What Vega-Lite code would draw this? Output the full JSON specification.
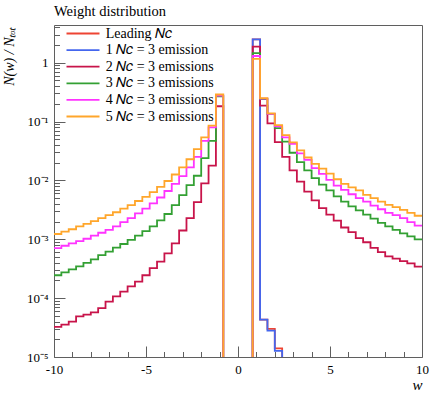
{
  "$schema": "https://vega.github.io/schema/vega-lite/v6.json",
  "autosize": "none",
  "width": 368,
  "height": 332,
  "padding": {"left": 54, "top": 25, "right": 14, "bottom": 37},
  "background": "white",
  "title": {"text": "Weight distribution", "anchor": "start", "frame": "group", "font": "Liberation Serif", "fontSize": 14.5, "fontWeight": "normal", "color": "black", "offset": 2},
  "config": {"view": {"stroke": "#5f5f5f", "strokeWidth": 1}, "font": "Liberation Serif"},
  "data": {"values": [
    {"w": 0.4, "lead": 1e-7, "e1": 1e-7},
    {"w": -10, "e2": 3.24e-5, "e3": 2.45e-4, "e4": 7.08e-4, "e5": 1.23e-3},
    {"w": -9.6, "e2": 3.55e-5, "e3": 2.75e-4, "e4": 7.76e-4, "e5": 1.35e-3},
    {"w": -9.2, "e2": 3.98e-5, "e3": 3.09e-4, "e4": 8.51e-4, "e5": 1.48e-3},
    {"w": -8.8, "e2": 4.90e-5, "e3": 3.47e-4, "e4": 9.33e-4, "e5": 1.66e-3},
    {"w": -8.4, "e2": 5.25e-5, "e3": 3.98e-4, "e4": 1.02e-3, "e5": 1.82e-3},
    {"w": -8.0, "e2": 5.75e-5, "e3": 4.57e-4, "e4": 1.15e-3, "e5": 2.04e-3},
    {"w": -7.6, "e2": 6.76e-5, "e3": 5.37e-4, "e4": 1.29e-3, "e5": 2.29e-3},
    {"w": -7.2, "e2": 8.71e-5, "e3": 6.17e-4, "e4": 1.45e-3, "e5": 2.57e-3},
    {"w": -6.8, "e2": 1.07e-4, "e3": 7.24e-4, "e4": 1.66e-3, "e5": 2.88e-3},
    {"w": -6.4, "e2": 1.29e-4, "e3": 8.32e-4, "e4": 1.95e-3, "e5": 3.31e-3},
    {"w": -6.0, "e2": 1.59e-4, "e3": 9.77e-4, "e4": 2.29e-3, "e5": 3.80e-3},
    {"w": -5.6, "e2": 1.91e-4, "e3": 1.15e-3, "e4": 2.75e-3, "e5": 4.47e-3},
    {"w": -5.2, "e2": 2.45e-4, "e3": 1.38e-3, "e4": 3.31e-3, "e5": 5.25e-3},
    {"w": -4.8, "e2": 3.24e-4, "e3": 1.66e-3, "e4": 4.07e-3, "e5": 6.31e-3},
    {"w": -4.4, "e2": 4.17e-4, "e3": 2.09e-3, "e4": 5.13e-3, "e5": 7.76e-3},
    {"w": -4.0, "e2": 5.75e-4, "e3": 2.69e-3, "e4": 6.61e-3, "e5": 9.77e-3},
    {"w": -3.6, "e2": 8.51e-4, "e3": 3.80e-3, "e4": 8.71e-3, "e5": 1.26e-2},
    {"w": -3.2, "e2": 1.41e-3, "e3": 5.62e-3, "e4": 1.18e-2, "e5": 1.66e-2},
    {"w": -2.8, "e2": 2.29e-3, "e3": 8.32e-3, "e4": 1.66e-2, "e5": 2.29e-2},
    {"w": -2.4, "e2": 4.27e-3, "e3": 1.20e-2, "e4": 2.51e-2, "e5": 3.39e-2},
    {"w": -2.0, "e2": 8.91e-3, "e3": 2.40e-2, "e4": 4.68e-2, "e5": 5.37e-2},
    {"w": -1.6, "e2": 1.78e-2, "e3": 4.68e-2, "e4": 7.94e-2, "e5": 8.51e-2},
    {"w": -1.2, "e2": 0.182, "e3": 0.269, "e4": 0.275, "e5": 0.288},
    {"w": -0.8, "e2": 1e-7, "e3": 1e-7, "e4": 1e-7, "e5": 1e-7},
    {"w": 0.8, "lead": 2.5, "e1": 2.5, "e2": 1.87, "e3": 1.45, "e4": 1.30, "e5": 1.16},
    {"w": 1.2, "lead": 4.3e-5, "e1": 4.3e-5, "e2": 0.186, "e3": 0.240, "e4": 0.245, "e5": 0.251},
    {"w": 1.6, "lead": 3.0e-5, "e1": 2.8e-5, "e2": 0.0933, "e3": 0.135, "e4": 0.135, "e5": 0.138},
    {"w": 2.0, "lead": 1.4e-5, "e1": 1.27e-5, "e2": 0.0447, "e3": 0.0776, "e4": 0.0832, "e5": 0.0871},
    {"w": 2.4, "lead": 1e-7, "e1": 1e-7, "e2": 0.0251, "e3": 0.0457, "e4": 0.0537, "e5": 0.0589},
    {"w": 2.8, "e2": 0.0148, "e3": 0.0295, "e4": 0.0417, "e5": 0.0442},
    {"w": 3.2, "e2": 9.55e-3, "e3": 0.0204, "e4": 0.0288, "e5": 0.0324},
    {"w": 3.6, "e2": 6.46e-3, "e3": 0.0148, "e4": 0.0224, "e5": 0.0245},
    {"w": 4.0, "e2": 4.57e-3, "e3": 0.01096, "e4": 0.0162, "e5": 0.0191},
    {"w": 4.4, "e2": 3.39e-3, "e3": 8.51e-3, "e4": 0.01288, "e5": 0.01585},
    {"w": 4.8, "e2": 2.63e-3, "e3": 6.76e-3, "e4": 0.01023, "e5": 0.01303},
    {"w": 5.2, "e2": 2.07e-3, "e3": 5.37e-3, "e4": 8.13e-3, "e5": 0.01047},
    {"w": 5.6, "e2": 1.585e-3, "e3": 4.37e-3, "e4": 6.92e-3, "e5": 8.71e-3},
    {"w": 6.0, "e2": 1.318e-3, "e3": 3.63e-3, "e4": 5.82e-3, "e5": 7.59e-3},
    {"w": 6.4, "e2": 1.047e-3, "e3": 3.09e-3, "e4": 5.01e-3, "e5": 6.76e-3},
    {"w": 6.8, "e2": 8.91e-4, "e3": 2.63e-3, "e4": 4.37e-3, "e5": 5.69e-3},
    {"w": 7.2, "e2": 7.16e-4, "e3": 2.24e-3, "e4": 3.72e-3, "e5": 5.01e-3},
    {"w": 7.6, "e2": 6.03e-4, "e3": 1.905e-3, "e4": 3.24e-3, "e5": 4.37e-3},
    {"w": 8.0, "e2": 5.13e-4, "e3": 1.66e-3, "e4": 2.82e-3, "e5": 3.85e-3},
    {"w": 8.4, "e2": 4.68e-4, "e3": 1.445e-3, "e4": 2.57e-3, "e5": 3.51e-3},
    {"w": 8.8, "e2": 4.27e-4, "e3": 1.259e-3, "e4": 2.29e-3, "e5": 3.16e-3},
    {"w": 9.2, "e2": 3.89e-4, "e3": 1.122e-3, "e4": 1.95e-3, "e5": 2.82e-3},
    {"w": 9.6, "e2": 3.44e-4, "e3": 1.0e-3, "e4": 1.70e-3, "e5": 2.51e-3},
    {"w": 10, "e2": 3.44e-4, "e3": 1.0e-3, "e4": 1.70e-3, "e5": 2.51e-3}
  ]},
  "transform": [
    {"fold": ["lead", "e1", "e2", "e3", "e4", "e5"], "as": ["series", "v"]},
    {"filter": "isValid(datum.v)"}
  ],
  "mark": {"type": "line", "interpolate": "step-after", "strokeWidth": 1.8, "clip": true},
  "encoding": {
    "x": {
      "field": "w", "type": "quantitative",
      "scale": {"domain": [-10, 10], "nice": false, "zero": false},
      "axis": {
        "values": [-10, -9, -8, -7, -6, -5, -4, -3, -2, -1, 0, 1, 2, 3, 4, 5, 6, 7, 8, 9, 10],
        "labelExpr": "datum.value % 5 == 0 ? toString(datum.value) : ''",
        "tickSize": {"condition": {"test": "datum.value % 5 == 0", "value": -11}, "value": -5.5},
        "tickColor": "#5f5f5f", "domain": false, "grid": false,
        "labelFont": "Liberation Serif", "labelFontSize": 13, "labelColor": "black",
        "labelPadding": 17, "labelFlush": false, "labelOverlap": false,
        "title": "w", "titleFont": "Liberation Serif", "titleFontStyle": "italic", "titleFontWeight": "normal",
        "titleFontSize": 15, "titleColor": "black", "titleX": 368, "titleY": 27, "titleAlign": "right", "titleBaseline": "middle"
      }
    },
    "y": {
      "field": "v", "type": "quantitative",
      "scale": {"type": "log", "domain": [1e-5, 4.37], "nice": false},
      "axis": {
        "values": [1e-5, 2e-5, 3e-5, 4e-5, 5e-5, 6e-5, 7e-5, 8e-5, 9e-5, 1e-4, 2e-4, 3e-4, 4e-4, 5e-4, 6e-4, 7e-4, 8e-4, 9e-4, 1e-3, 2e-3, 3e-3, 4e-3, 5e-3, 6e-3, 7e-3, 8e-3, 9e-3, 1e-2, 2e-2, 3e-2, 4e-2, 5e-2, 6e-2, 7e-2, 8e-2, 9e-2, 0.1, 0.2, 0.3, 0.4, 0.5, 0.6, 0.7, 0.8, 0.9, 1, 2, 3, 4],
        "labelExpr": "abs(log(datum.value)/LN10 - round(log(datum.value)/LN10)) < 0.01 ? (round(log(datum.value)/LN10) == 0 ? '1' : '10' + ['', '⁻¹', '⁻²', '⁻³', '⁻⁴', '⁻⁵'][-round(log(datum.value)/LN10)]) : ''",
        "tickSize": {"condition": {"test": "abs(log(datum.value)/LN10 - round(log(datum.value)/LN10)) < 0.01", "value": -11}, "value": -5.5},
        "tickColor": "#5f5f5f", "domain": false, "grid": false,
        "labelFont": "Liberation Serif", "labelFontSize": 13, "labelColor": "black",
        "labelPadding": 17, "labelOverlap": false,
        "title": "N(w) / Nₜₒₜ", "titleFont": "Liberation Serif", "titleFontStyle": "italic", "titleFontWeight": "normal",
        "titleFontSize": 14, "titleColor": "black", "titleX": -45, "titleY": 2, "titleAngle": 270, "titleAlign": "right", "titleBaseline": "middle"
      }
    },
    "color": {
      "field": "series", "type": "nominal",
      "scale": {"domain": ["lead", "e1", "e2", "e3", "e4", "e5"], "range": ["#EE4433", "#4466EE", "#C8144A", "#33A033", "#FF33FF", "#FFA62B"]},
      "legend": {
        "orient": "none", "legendX": 22, "legendY": 1.5, "title": null,
        "symbolType": "M-3,0H3", "symbolSize": 121, "symbolStrokeWidth": 1.8,
        "labelFont": "Liberation Serif", "labelFontSize": 14, "labelColor": "black",
        "labelOffset": 15.7, "rowPadding": 2.6,
        "labelExpr": "datum.label == 'lead' ? 'Leading 𝑁𝑐' : datum.label == 'e1' ? '1 𝑁𝑐 = 3 emission' : datum.label == 'e2' ? '2 𝑁𝑐 = 3 emissions' : datum.label == 'e3' ? '3 𝑁𝑐 = 3 emissions' : datum.label == 'e4' ? '4 𝑁𝑐 = 3 emissions' : '5 𝑁𝑐 = 3 emissions'"
      }
    }
  }
}
